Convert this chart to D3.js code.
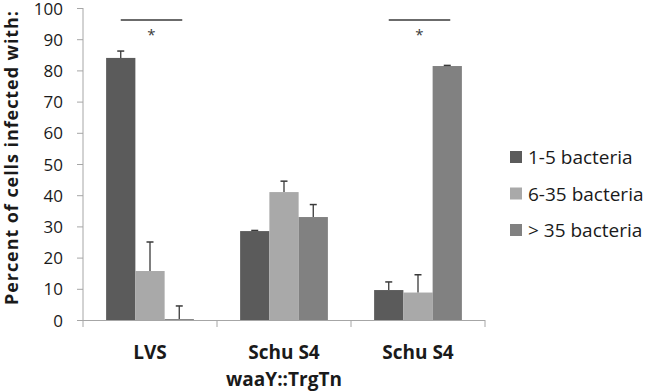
<!DOCTYPE html>
<html>
<head>
<meta charset="utf-8">
<script src="https://cdn.jsdelivr.net/npm/d3@7"></script>
<style>
  body { margin: 0; background: #fff; }
  svg { display: block; font-family: "Open Sans", sans-serif; }
</style>
</head>
<body>
<svg id="chart" width="652" height="391"></svg>
<script>
// values
const strains = ['LVS', 'Schu S4\nwaaY::TrgTn', 'Schu S4'];
const groups = ['1-5 bacteria', '6-35 bacteria', '> 35 bacteria'];
const means = [
  [84, 15.7, 0.3],
  [28.5, 41, 33],
  [9.6, 8.8, 81.4]
];
const errs = [
  [2.2, 9.3, 4.2],
  [0.2, 3.5, 4],
  [2.6, 5.7, 0.2]
];
const yTicks = [0, 10, 20, 30, 40, 50, 60, 70, 80, 90, 100];
const sigStrains = ['LVS', 'Schu S4'];
const colors = ['#5b5b5b', '#a9a9a9', '#818181'];

const svg = d3.select('#chart');

//scales
const x = d3.scaleBand().domain(strains).range([83, 485]);
const xSub = d3.scaleBand().domain(groups).range([0, x.bandwidth()]).paddingOuter(0.79);
const y = d3.scaleLinear().domain([0, 100]).range([320, 8]);

// y axis
const yAxis = svg.append('g')
  .attr('transform', 'translate(83,0)')
  .call(d3.axisLeft(y).tickValues(yTicks).tickSize(6).tickPadding(14));
yAxis.select('.domain').attr('stroke', '#a6a6a6').attr('d', 'M0,' + y(100) + 'V' + y(0));
yAxis.selectAll('.tick line').attr('stroke', '#a6a6a6');
yAxis.selectAll('.tick text')
  .attr('fill', '#1a1a1a')
  .attr('dy', '0.36em')
  .style('font-size', '17px')
  .style('font-family', '"Open Sans", sans-serif');

svg.append('text')
  .attr('transform', 'translate(18,' + 158 + ') rotate(-90)')
  .attr('text-anchor', 'middle')
  .attr('textLength', 294)
  .attr('lengthAdjust', 'spacing')
  .style('font-size', '18px')
  .style('font-weight', 'bold')
  .attr('fill', '#1a1a1a')
  .text('Percent of cells infected with:');

// bars
strains.forEach(function(s, i) {
  const g = svg.append('g').attr('transform', 'translate(' + x(s) + ',0)');
  groups.forEach(function(k, j) {
    const v = means[i][j];
    g.append('rect')
      .attr('x', xSub(k))
      .attr('y', y(v))
      .attr('width', xSub.bandwidth())
      .attr('height', y(0) - y(v))
      .attr('fill', colors[j]);
    // error bar, upper half only
    const cx = xSub(k) + xSub.bandwidth() / 2;
    g.append('line')
      .attr('x1', cx).attr('x2', cx)
      .attr('y1', y(v)).attr('y2', y(v + errs[i][j]))
      .attr('stroke', '#3a3a3a').attr('stroke-width', 1.3);
    g.append('line')
      .attr('x1', cx - 3.5).attr('x2', cx + 3.5)
      .attr('y1', y(v + errs[i][j])).attr('y2', y(v + errs[i][j]))
      .attr('stroke', '#3a3a3a').attr('stroke-width', 1.5);
  });
});

// x axis line + category ticks
svg.append('line')
  .attr('x1', 83).attr('x2', 485)
  .attr('y1', y(0) + 0.5).attr('y2', y(0) + 0.5)
  .attr('stroke', '#a6a6a6');
const bounds = strains.map(function(s) { return x(s); }).concat([x.range()[1]]);
svg.selectAll('.cat-tick')
  .data(bounds)
  .enter().append('line')
  .attr('class', 'cat-tick')
  .attr('x1', function(d) { return d; }).attr('x2', function(d) { return d; })
  .attr('y1', y(0)).attr('y2', y(0) + 7)
  .attr('stroke', '#a6a6a6');

// category labels
strains.forEach(function(s) {
  const t = svg.append('text')
    .attr('text-anchor', 'middle')
    .style('font-size', '19px')
    .style('font-weight', 'bold')
    .attr('fill', '#1a1a1a');
  s.split('\n').forEach(function(line, li) {
    t.append('tspan')
      .attr('x', x(s) + x.bandwidth() / 2)
      .attr('y', 359 + li * 27)
      .text(line);
  });
});

// significance markers
sigStrains.forEach(function(s) {
  const x1 = x(s) + xSub(groups[0]) + xSub.bandwidth() / 2;
  const x2 = x(s) + xSub(groups[2]) + xSub.bandwidth() / 2 + 3;
  svg.append('line')
    .attr('x1', x1).attr('x2', x2)
    .attr('y1', 20).attr('y2', 20)
    .attr('stroke', '#3a3a3a').attr('stroke-width', 1.5);
  svg.append('text')
    .attr('x', (x1 + x2) / 2)
    .attr('y', 40)
    .attr('text-anchor', 'middle')
    .style('font-size', '15px')
    .attr('fill', '#3a3a3a')
    .text('*');
});

// legend
const legend = svg.append('g').attr('transform', 'translate(510,0)');
groups.forEach(function(k, j) {
  const cy = 157 + j * 36.5;
  legend.append('rect')
    .attr('x', 0).attr('y', cy - 6)
    .attr('width', 12).attr('height', 12)
    .attr('fill', colors[j]);
  legend.append('text')
    .attr('x', 18).attr('y', cy + 7)
    .style('font-size', '19px')
    .attr('fill', '#1a1a1a')
    .text(k);
});
</script>
</body>
</html>
